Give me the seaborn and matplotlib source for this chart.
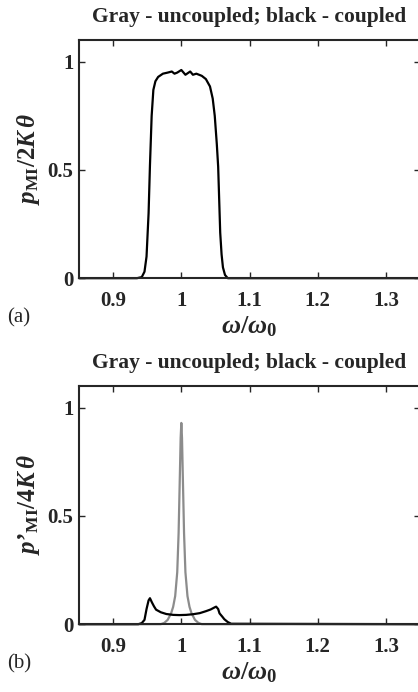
import matplotlib
matplotlib.use("Agg")
import matplotlib.pyplot as plt
import pandas as pd
import seaborn as sns

# panel (a): coupled response (black)
freq_a = [0.85, 0.935, 0.942, 0.946, 0.949, 0.952, 0.954, 0.9565, 0.959, 0.962, 0.966, 0.973,
          0.980, 0.986, 0.990, 0.994, 1.000, 1.006, 1.013, 1.017, 1.022, 1.030, 1.036, 1.042,
          1.046, 1.049, 1.052, 1.054, 1.057, 1.059, 1.061, 1.064, 1.068, 1.075, 1.35]
resp_a = [0.0, 0.0, 0.005, 0.03, 0.10, 0.30, 0.52, 0.75, 0.87, 0.91, 0.93, 0.945,
          0.95, 0.955, 0.945, 0.95, 0.962, 0.94, 0.955, 0.94, 0.945, 0.935, 0.92, 0.886,
          0.83, 0.75, 0.62, 0.515, 0.21, 0.11, 0.05, 0.015, 0.0, 0.0, 0.0]

# panel (b): uncoupled (gray) and coupled (black)
freq_b_gray = [0.85, 0.97, 0.975, 0.980, 0.985, 0.988, 0.991, 0.994, 0.996, 0.998, 0.999, 1.000,
               1.001, 1.002, 1.004, 1.006, 1.009, 1.012, 1.015, 1.020, 1.025, 1.030, 1.35]
resp_b_gray = [0.0, 0.0, 0.006, 0.02, 0.05, 0.08, 0.13, 0.24, 0.42, 0.71, 0.86, 0.93,
               0.86, 0.71, 0.42, 0.24, 0.13, 0.08, 0.05, 0.02, 0.006, 0.0, 0.0]
freq_b_black = [0.85, 0.937, 0.942, 0.946, 0.949, 0.952, 0.954, 0.957, 0.960, 0.963, 0.970,
                0.978, 0.988, 0.997, 1.007, 1.017, 1.027, 1.036, 1.043, 1.049, 1.051, 1.054,
                1.056, 1.060, 1.063, 1.068, 1.073, 1.35]
resp_b_black = [0.0, 0.0, 0.005, 0.02, 0.07, 0.11, 0.12, 0.10, 0.082, 0.067, 0.055,
                0.047, 0.043, 0.042, 0.043, 0.046, 0.051, 0.060, 0.068, 0.078, 0.081, 0.07,
                0.05, 0.035, 0.023, 0.01, 0.002, 0.0]

xticks = [0.9, 1.0, 1.1, 1.2, 1.3]
xticklabels = ["0.9", "1", "1.1", "1.2", "1.3"]
yticks = [0, 0.5, 1]
yticklabels = ["0", "0.5", "1"]

title = "Gray - uncoupled; black - coupled"

sns.set_theme(style="ticks")
plt.rcParams["font.family"] = ["Liberation Serif", "DejaVu Serif"]
plt.rcParams["mathtext.fontset"] = "custom"
plt.rcParams["mathtext.rm"] = "Liberation Serif:bold"
plt.rcParams["mathtext.it"] = "Liberation Serif:italic:bold"
plt.rcParams["mathtext.bf"] = "Liberation Serif:bold"

fig = plt.figure(figsize=(4.18, 6.92), dpi=100)
ax1 = fig.add_axes([0.189, 0.598, 0.816, 0.344])
ax2 = fig.add_axes([0.189, 0.098, 0.816, 0.344])

df_a = pd.DataFrame({"freq": freq_a, "resp": resp_a})
df_bg = pd.DataFrame({"freq": freq_b_gray, "resp": resp_b_gray})
df_bb = pd.DataFrame({"freq": freq_b_black, "resp": resp_b_black})

sns.lineplot(ax=ax1, x="freq", y="resp", data=df_a, color="black", linewidth=1.6,
             estimator=None, sort=False, clip_on=False)
sns.lineplot(ax=ax2, x="freq", y="resp", data=df_bg, color="#8c8c8c", linewidth=1.6,
             estimator=None, sort=False, clip_on=False)
sns.lineplot(ax=ax2, x="freq", y="resp", data=df_bb, color="black", linewidth=1.6,
             estimator=None, sort=False, clip_on=False)

ylabels = [r"$p_{\mathrm{MI}}/2K\,\theta$", r"$p\mathrm{’}_{\mathrm{MI}}/4K\,\theta$"]
tags = ["(a)", "(b)"]
for ax, ylab, tag in zip([ax1, ax2], ylabels, tags):
    ax.set_xlim(0.85, 1.35)
    ax.set_ylim(0, 1.1)
    ax.set_xticks(xticks)
    ax.set_xticklabels(xticklabels)
    ax.set_yticks(yticks)
    ax.set_yticklabels(yticklabels)
    ax.tick_params(direction="in", length=4, width=1, top=True, right=True, labelsize=15)
    ax.tick_params(axis="x", pad=9)
    ax.tick_params(axis="y", pad=4)
    for lab in ax.get_xticklabels() + ax.get_yticklabels():
        lab.set_fontweight("bold")
    for s in ax.spines.values():
        s.set_linewidth(1.5)
    ax.set_xlabel(r"$\omega/\omega_0$", fontsize=19, labelpad=3)
    ax.set_ylabel(ylab, fontsize=18, labelpad=4)
    ax.set_title(title, fontsize=15.5, fontweight="bold", pad=13)
    pos = ax.get_position()
    fig.text(0.018, pos.y0 - 0.058, tag, fontsize=15, ha="left", va="center")

plt.savefig("out.png", dpi=100)
